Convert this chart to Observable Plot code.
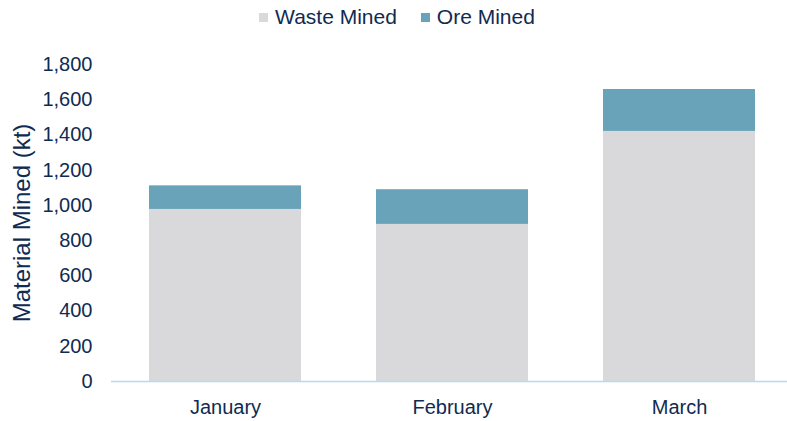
<!DOCTYPE html>
<html>
<head>
<meta charset="utf-8">
<script src="https://cdn.jsdelivr.net/npm/d3@7"></script>
<script src="https://cdn.jsdelivr.net/npm/@observablehq/plot@0.6"></script>
<style>
  html, body { margin: 0; padding: 0; background: #fff; }
  body { width: 787px; height: 421px; overflow: hidden; font-family: "Liberation Sans", Arial, sans-serif; color: #0f2b52; }
  #legend { height: 34px; display: flex; justify-content: center; align-items: center; font-size: 21px; padding-left: 7px; }
  #legend .item { display: flex; align-items: center; }
  #legend .sw { width: 9px; height: 9px; margin-right: 7px; }
  #legend .item + .item { margin-left: 24px; }
  #chart svg { display: block; }
</style>
</head>
<body>
<div id="legend"></div>
<div id="chart"></div>
<script>
const months = ["January", "February", "March"];
const wasteMined = [977, 892, 1420];
const oreMined = [134, 197, 238];
const seriesNames = ["Waste Mined", "Ore Mined"];
const seriesColors = ["#D9D9DB", "#68A3B9"];
const yTicks = [0, 200, 400, 600, 800, 1000, 1200, 1400, 1600, 1800];
const yLabel = "Material Mined (kt)";

const data = [];
months.forEach((m, i) => {
  data.push({month: m, series: seriesNames[0], value: wasteMined[i]});
  data.push({month: m, series: seriesNames[1], value: oreMined[i]});
});

const legend = document.getElementById("legend");
seriesNames.forEach((s, i) => {
  const item = document.createElement("div");
  item.className = "item";
  const sw = document.createElement("span");
  sw.className = "sw";
  sw.style.background = seriesColors[i];
  const t = document.createElement("span");
  t.textContent = s;
  item.appendChild(sw);
  item.appendChild(t);
  legend.appendChild(item);
});

const chart = Plot.plot({
  width: 787,
  height: 387,
  marginTop: 30,
  marginBottom: 40,
  marginLeft: 111,
  marginRight: 0,
  style: {fontFamily: "'Liberation Sans', Arial, sans-serif", color: "#0f2b52", background: "#fff"},
  x: {domain: months, paddingInner: 0.33, paddingOuter: 0.15, align: 0.55, label: null},
  y: {domain: [0, 1800], label: null},
  color: {domain: seriesNames, range: seriesColors},
  marks: [
    Plot.barY(data, Plot.stackY({x: "month", y: "value", fill: "series", order: seriesNames})),
    Plot.ruleY([0], {stroke: "#BDD7EE", strokeWidth: 1.5}),
    Plot.axisY(yTicks, {tickSize: 0, tickPadding: 19, tickFormat: d3.format(","), fontSize: 20, label: null}),
    Plot.axisX({tickSize: 0, tickPadding: 18, fontSize: 20, label: null}),
    Plot.text([yLabel], {frameAnchor: "left", rotate: -90, dx: -89, fontSize: 24, fill: "#0f2b52", textAnchor: "middle", lineAnchor: "middle"})
  ]
});
document.getElementById("chart").appendChild(chart);
</script>
</body>
</html>
